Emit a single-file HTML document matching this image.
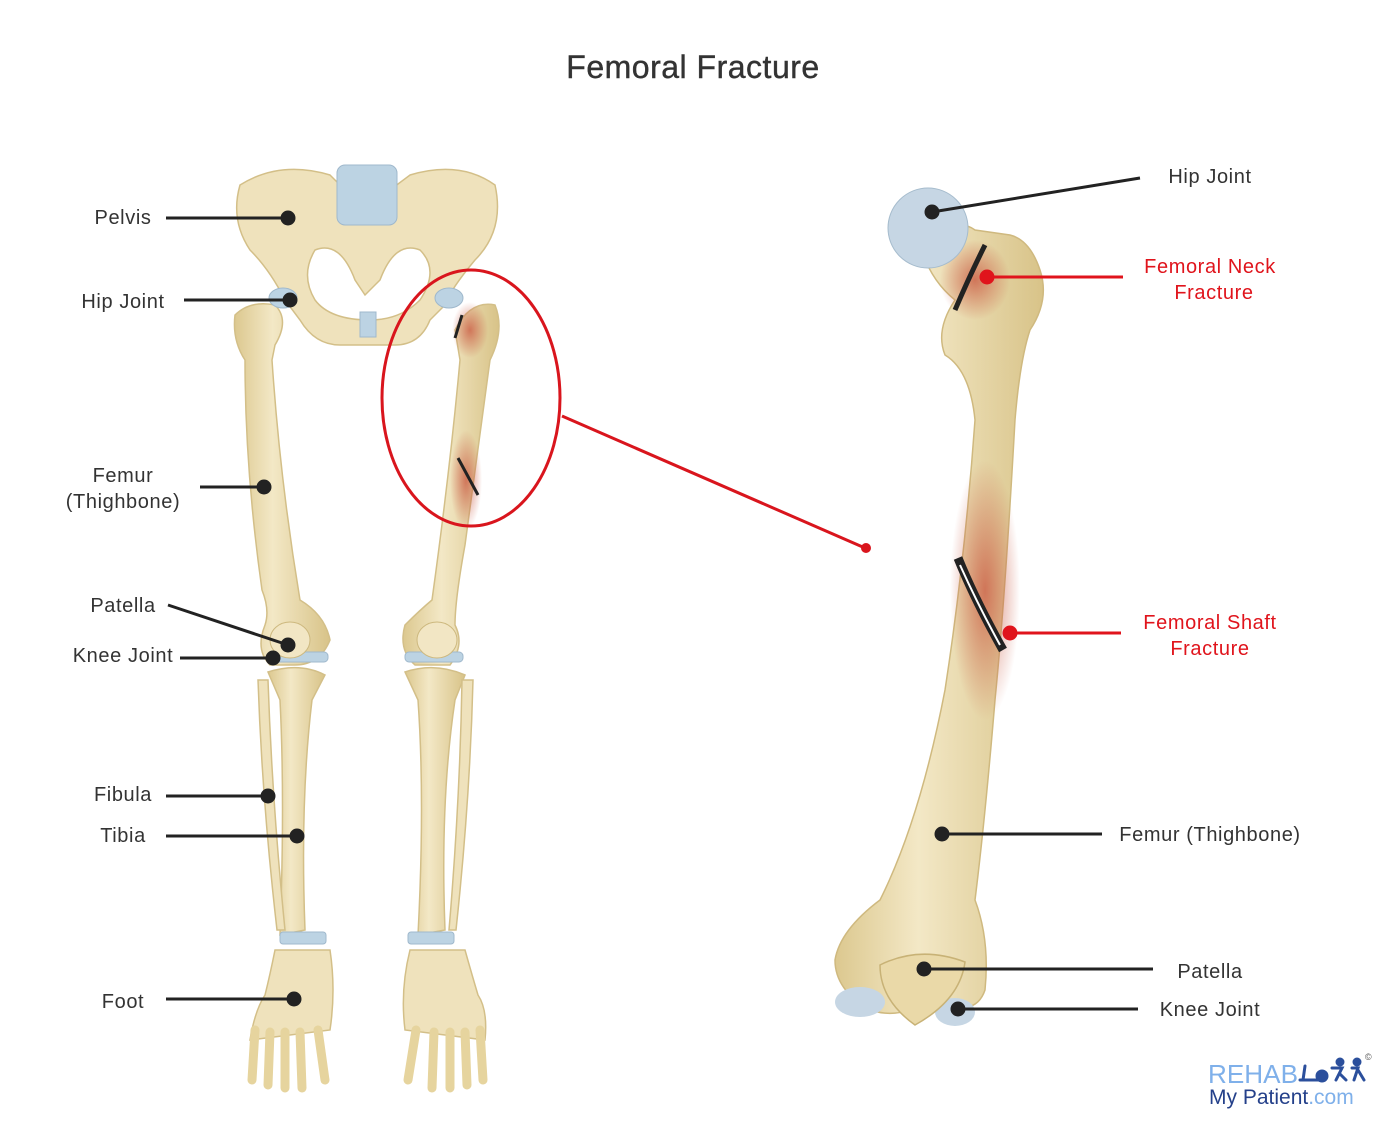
<!DOCTYPE html>
<html><head><meta charset="utf-8"><style>
html,body{margin:0;padding:0;background:#fff;}
svg{display:block;}
text{font-family:"Liberation Sans",sans-serif;}
</style></head><body>
<svg width="1400" height="1134" viewBox="0 0 1400 1134" xmlns="http://www.w3.org/2000/svg">
<defs>
<linearGradient id="bone" x1="0" x2="1" y1="0" y2="0">
<stop offset="0" stop-color="#dcc88f"/><stop offset="0.4" stop-color="#f3e8c6"/><stop offset="1" stop-color="#d8c388"/>
</linearGradient>
<radialGradient id="red1" cx="0.5" cy="0.5" r="0.5"><stop offset="0" stop-color="#c9563f" stop-opacity="0.75"/><stop offset="1" stop-color="#c9563f" stop-opacity="0"/></radialGradient>
</defs>
<text x="693" y="78" font-size="32" text-anchor="middle" fill="#333" letter-spacing="0.5" stroke="#333" stroke-width="0.4">Femoral Fracture</text>

<!-- LEFT SKELETON -->
<g fill="#efe2bc" stroke="#d3bf88" stroke-width="1.5">
<path d="M240,185 Q280,160 330,175 L345,190 L390,190 L410,175 Q460,160 495,185 Q505,230 475,260 Q450,290 445,305 L430,320 Q420,345 395,345 L340,345 Q315,345 300,320 L285,300 Q270,270 250,250 Q230,220 240,185 Z"/>
<path d="M315,250 Q340,240 355,280 L365,295 L380,280 Q395,240 420,250 Q440,270 420,300 Q400,320 370,320 Q330,320 315,300 Q300,275 315,250Z" fill="#fff" stroke="#d3bf88"/>
<path d="M235,315 Q250,300 275,305 Q290,320 275,345 L272,360 Q280,480 300,600 Q325,615 330,640 Q320,665 295,665 L270,665 Q255,650 265,625 Q270,610 262,590 Q245,470 245,360 Q232,340 235,315Z" fill="url(#bone)"/>
<path d="M455,330 Q470,300 495,305 Q505,330 490,360 Q475,470 465,545 Q455,600 455,625 Q465,645 450,665 L415,665 Q398,650 405,625 Q420,610 432,600 Q450,470 460,360 Z" fill="url(#bone)"/>
<path d="M268,672 Q300,662 325,675 L312,700 Q300,800 305,930 L280,935 Q285,800 280,700 Z" fill="url(#bone)"/>
<path d="M258,680 L268,680 Q272,800 285,930 L277,930 Q262,800 258,680Z"/>
<path d="M405,672 Q435,662 465,675 L455,700 Q440,800 445,930 L418,935 Q425,800 418,700 Z" fill="url(#bone)"/>
<path d="M462,680 L473,680 Q470,800 456,930 L449,930 Q460,800 462,680Z"/>
<path d="M275,950 L330,950 Q336,990 330,1030 L250,1040 Q255,1010 265,995 Q270,975 275,950Z"/>
<path d="M410,950 L465,950 Q472,975 478,995 Q488,1010 485,1040 L405,1030 Q400,990 410,950Z"/>
</g>
<g stroke="#e6d49e" stroke-width="9" stroke-linecap="round" fill="none">
<path d="M255,1030 L252,1080 M270,1032 L268,1085 M285,1032 L285,1088 M300,1032 L302,1088 M318,1030 L325,1080"/>
<path d="M480,1030 L483,1080 M465,1032 L467,1085 M450,1032 L450,1088 M434,1032 L432,1088 M416,1030 L408,1080"/>
</g>
<g fill="#bcd3e3" stroke="#9fb8cc" stroke-width="1">
<rect x="337" y="165" width="60" height="60" rx="8"/>
<rect x="360" y="312" width="16" height="25"/>
<ellipse cx="283" cy="298" rx="14" ry="10"/>
<ellipse cx="449" cy="298" rx="14" ry="10"/>
<rect x="270" y="652" width="58" height="10" rx="4"/>
<rect x="405" y="652" width="58" height="10" rx="4"/>
<rect x="280" y="932" width="46" height="12" rx="3"/>
<rect x="408" y="932" width="46" height="12" rx="3"/>
</g>
<ellipse cx="290" cy="640" rx="20" ry="18" fill="#f2e6c4" stroke="#cdb87e"/>
<ellipse cx="437" cy="640" rx="20" ry="18" fill="#f2e6c4" stroke="#cdb87e"/>
<ellipse cx="470" cy="330" rx="18" ry="28" fill="url(#red1)"/>
<ellipse cx="466" cy="480" rx="16" ry="50" fill="url(#red1)"/>
<path d="M462,315 L455,338" stroke="#222" stroke-width="3"/>
<path d="M458,458 L478,495" stroke="#222" stroke-width="3"/>

<ellipse cx="471" cy="398" rx="89" ry="128" fill="none" stroke="#d9151d" stroke-width="3"/>
<line x1="562" y1="416" x2="865" y2="548" stroke="#d9151d" stroke-width="3"/>
<circle cx="866" cy="548" r="5" fill="#d9151d"/>

<!-- BIG FEMUR -->
<path d="M920,245 Q955,215 975,230 L1010,235 Q1030,240 1040,270 Q1050,300 1030,330 Q1020,360 1015,420 Q1005,600 995,700 Q985,820 975,900 Q990,940 985,990 Q975,1020 930,1000 Q900,1020 870,1010 Q835,990 835,960 Q840,930 880,900 Q920,820 945,690 Q965,560 975,420 Q970,370 945,355 Q935,330 955,300 Q930,280 920,245Z" fill="url(#bone)" stroke="#cfb97f" stroke-width="1.5"/>
<ellipse cx="985" cy="590" rx="35" ry="130" fill="url(#red1)"/>
<ellipse cx="975" cy="280" rx="35" ry="40" fill="url(#red1)"/>
<circle cx="928" cy="228" r="40" fill="#c6d6e4" stroke="#a6bccd"/>
<path d="M985,245 Q970,275 955,310" stroke="#222" stroke-width="5" fill="none"/>
<path d="M958,558 Q975,600 1003,650" stroke="#222" stroke-width="9" fill="none"/>
<path d="M960,565 Q978,605 1000,645" stroke="#fff" stroke-width="2" fill="none"/>
<ellipse cx="860" cy="1002" rx="25" ry="15" fill="#c6d6e4"/>
<ellipse cx="955" cy="1012" rx="20" ry="14" fill="#c6d6e4"/>
<path d="M880,965 Q920,945 965,962 Q960,1000 915,1025 Q880,1000 880,965Z" fill="#ead9a8" stroke="#c8b276" stroke-width="1.5"/>

<g font-size="20" fill="#333" text-anchor="middle" letter-spacing="0.6">
<text x="123" y="224">Pelvis</text>
<text x="123" y="308">Hip Joint</text>
<text x="123" y="482">Femur</text>
<text x="123" y="508">(Thighbone)</text>
<text x="123" y="612">Patella</text>
<text x="123" y="662">Knee Joint</text>
<text x="123" y="801">Fibula</text>
<text x="123" y="842">Tibia</text>
<text x="123" y="1008">Foot</text>
</g>
<g stroke="#222" stroke-width="3" fill="#222">
<line x1="166" y1="218" x2="288" y2="218"/><circle cx="288" cy="218" r="6"/>
<line x1="184" y1="300" x2="290" y2="300"/><circle cx="290" cy="300" r="6"/>
<line x1="200" y1="487" x2="264" y2="487"/><circle cx="264" cy="487" r="6"/>
<line x1="168" y1="605" x2="288" y2="645"/><circle cx="288" cy="645" r="6"/>
<line x1="180" y1="658" x2="273" y2="658"/><circle cx="273" cy="658" r="6"/>
<line x1="166" y1="796" x2="268" y2="796"/><circle cx="268" cy="796" r="6"/>
<line x1="166" y1="836" x2="297" y2="836"/><circle cx="297" cy="836" r="6"/>
<line x1="166" y1="999" x2="294" y2="999"/><circle cx="294" cy="999" r="6"/>
<line x1="1140" y1="178" x2="932" y2="212"/><circle cx="932" cy="212" r="6"/>
<line x1="1102" y1="834" x2="942" y2="834"/><circle cx="942" cy="834" r="6"/>
<line x1="1153" y1="969" x2="924" y2="969"/><circle cx="924" cy="969" r="6"/>
<line x1="1138" y1="1009" x2="958" y2="1009"/><circle cx="958" cy="1009" r="6"/>
</g>
<g stroke="#e0141c" stroke-width="3" fill="#e0141c">
<line x1="1123" y1="277" x2="987" y2="277"/><circle cx="987" cy="277" r="6"/>
<line x1="1121" y1="633" x2="1010" y2="633"/><circle cx="1010" cy="633" r="6"/>
</g>
<g font-size="20" text-anchor="middle" letter-spacing="0.6">
<text x="1210" y="183" fill="#333">Hip Joint</text>
<text x="1210" y="273" fill="#e0141c">Femoral Neck</text>
<text x="1214" y="299" fill="#e0141c">Fracture</text>
<text x="1210" y="629" fill="#e0141c">Femoral Shaft</text>
<text x="1210" y="655" fill="#e0141c">Fracture</text>
<text x="1210" y="841" fill="#333">Femur (Thighbone)</text>
<text x="1210" y="978" fill="#333">Patella</text>
<text x="1210" y="1016" fill="#333">Knee Joint</text>
</g>
<text x="1208" y="1083" font-size="26" fill="#7fb0ea" textLength="90" lengthAdjust="spacingAndGlyphs">REHAB</text>
<g fill="#2b4f9c" stroke="#2b4f9c" stroke-width="3" stroke-linecap="round">
<line x1="1300" y1="1080" x2="1318" y2="1080"/><circle cx="1322" cy="1076" r="5"/><line x1="1303" y1="1080" x2="1305" y2="1066"/>
<circle cx="1340" cy="1062" r="3"/><path d="M1332,1068 L1342,1068 L1336,1080 M1340,1074 L1346,1080" fill="none"/>
<circle cx="1357" cy="1062" r="3"/><path d="M1352,1068 L1358,1068 L1354,1080 M1358,1070 L1364,1080" fill="none"/>
</g>
<text x="1365" y="1060" font-size="9" fill="#555">©</text>
<text x="1209" y="1104" font-size="21" fill="#24408a">My Patient<tspan fill="#7fb0ea">.com</tspan></text>
</svg>
</body></html>
